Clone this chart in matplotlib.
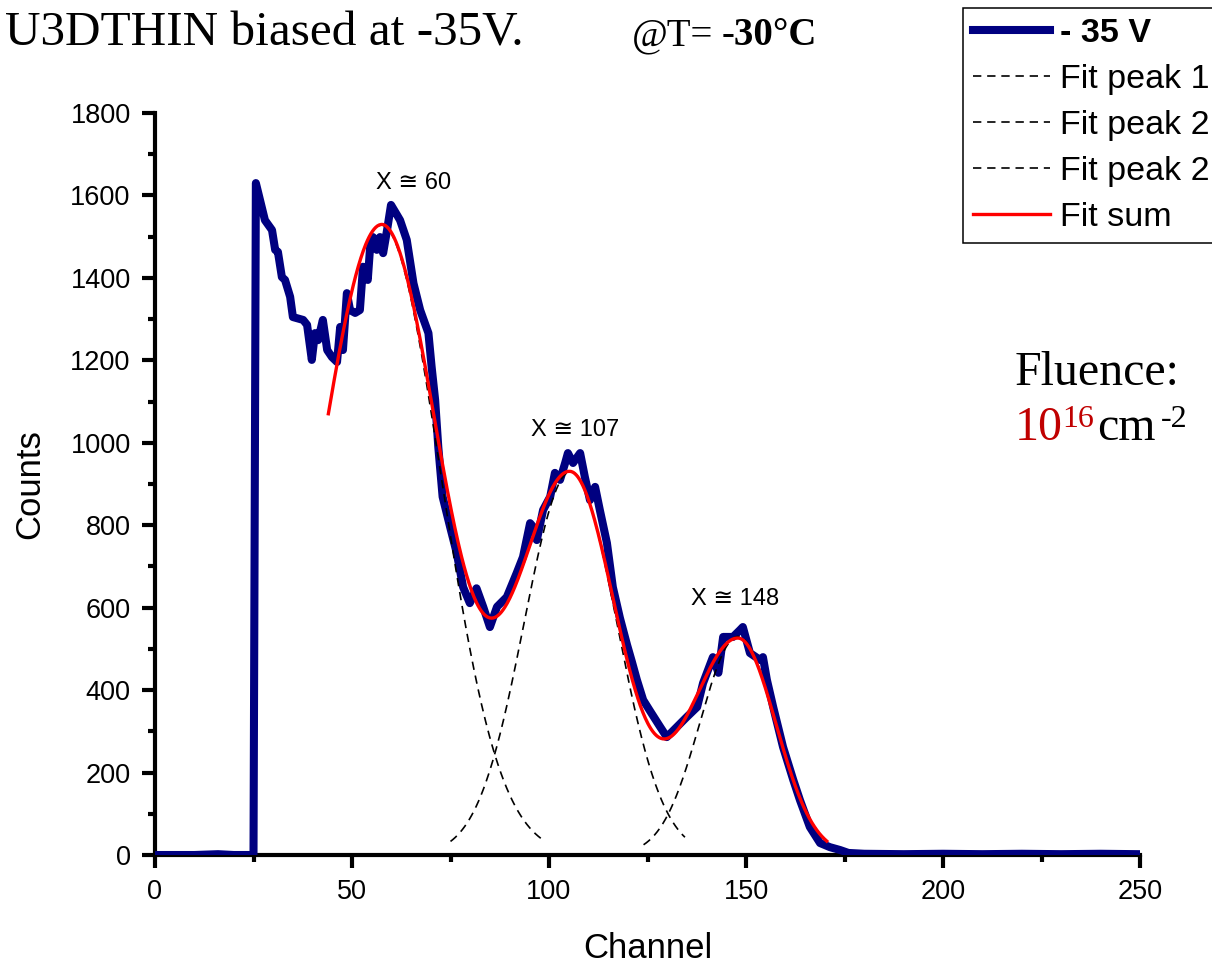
import numpy as np
import matplotlib
matplotlib.use('Agg')
import matplotlib.pyplot as plt
from matplotlib.lines import Line2D
from matplotlib.ticker import MultipleLocator

plt.rcParams['font.family'] = ['Liberation Sans', 'DejaVu Sans']

channel = [1, 10, 16, 20, 25, 25.6, 27.9, 29.7, 30.5, 31.2, 32.2, 33, 34.3, 35, 37.6,
           38.6, 39.8, 40.6, 41.4, 42.6, 43.7, 44.9, 46.2, 47, 47.7, 48.7, 49.5,
           50.8, 52, 52.8, 54, 54.6, 55.3, 56.3, 57.1, 57.9, 58.9, 59.9, 61.4,
           62.2, 63.9, 65.6, 67.3, 69.4, 70.2, 71.1, 71.9, 73, 74.9, 76.6, 78.2,
           79.9, 81.6, 83.3, 85, 86.8, 89.3, 91.8, 93.4, 95.2, 96, 96.9, 98.5,
           100.3, 101.5, 102.8, 104.1, 104.8, 106.1, 107.9, 109.1, 110.4, 111.7,
           112.9, 114.7, 116.2, 118, 119.8, 121, 122.3, 123.9, 125.6, 128.2,
           129.9, 132.5, 135, 137.6, 139.1, 141.6, 143, 144.2, 146.7, 148.5,
           149.2, 151, 153.6, 154.3, 155.3, 156.9, 159.4, 162, 163.7, 166.2,
           168.8, 171.3, 173.9, 176, 180, 190, 200, 210, 220, 230, 240, 249.5]
counts = [0, 0, 2, 0, 0, 1630, 1540, 1516, 1468, 1463, 1402, 1395, 1354, 1305, 1298,
          1286, 1201, 1266, 1249, 1298, 1225, 1208, 1196, 1281, 1225, 1363, 1322,
          1315, 1322, 1427, 1395, 1475, 1499, 1468, 1499, 1460, 1516, 1577, 1553,
          1540, 1492, 1387, 1322, 1266, 1185, 1104, 990, 869, 796, 732, 650,
          611, 647, 602, 553, 602, 626, 684, 723, 805, 796, 764, 837,
          869, 927, 910, 951, 975, 951, 975, 917, 861, 893,
          837, 757, 650, 575, 510, 470, 425, 376, 350, 311,
          286, 311, 335, 359, 417, 480, 442, 529, 529, 546,
          553, 490, 473, 480, 425, 359, 262, 182, 133, 68,
          29, 19, 12, 5, 3, 2, 3, 2, 3, 2, 3, 2]

# gaussian fit peaks: centre, height, left / right sigma, drawn range
peak_center = [57.5, 105.5, 148.0]
peak_height = [1528, 930, 530]
peak_sig_l = [16.0, 11.8, 9.7]
peak_sig_r = [15.0, 11.7, 9.6]
peak_from = [50, 75, 124]
peak_to = [98.5, 134.5, 170]

# fit sum components
sum_height = [1528, 920, 525]
sum_sig_l = [16.0, 13.5, 12.3]
sum_sig_r = [15.0, 11.7, 9.6]
sum_from, sum_to = 44, 170.5

peak_text = ['X \u2245 60', 'X \u2245 107', 'X \u2245 148']
text_x = [65.7, 106.6, 147.2]
text_y = [1630, 1031, 621]

legend_labels = ['- 35 V', 'Fit peak 1', 'Fit peak 2', 'Fit peak 2', 'Fit sum']


def split_gauss(x, c, h, sl, sr):
    s = np.where(x < c, sl, sr)
    return h * np.exp(-(x - c) ** 2 / (2 * s ** 2))


blue = '#000080'
dash = (0, (5, 3.5))

fig = plt.figure(figsize=(12.12, 9.63), dpi=100)
ax = fig.add_axes([155 / 1212, 1 - 855 / 963, 985 / 1212, 742 / 963])

ax.plot(channel, counts, color=blue, lw=5.8, solid_joinstyle='round', zorder=3)

for i in range(3):
    xx = np.linspace(peak_from[i], peak_to[i], 200)
    yy = split_gauss(xx, peak_center[i], peak_height[i], peak_sig_l[i], peak_sig_r[i])
    ax.plot(xx, yy, color='black', lw=1.2, linestyle=dash, zorder=4)

xs = np.linspace(sum_from, sum_to, 600)
ys = np.zeros_like(xs)
for i in range(3):
    ys += split_gauss(xs, peak_center[i], sum_height[i], sum_sig_l[i], sum_sig_r[i])
ax.plot(xs, ys, color='red', lw=2.4, zorder=5)

for t, x, y in zip(peak_text, text_x, text_y):
    ax.text(x, y, t, ha='center', va='center', fontsize=17)

ax.set_xlim(0, 250)
ax.set_ylim(0, 1800)
ax.xaxis.set_major_locator(MultipleLocator(50))
ax.xaxis.set_minor_locator(MultipleLocator(25))
ax.yaxis.set_major_locator(MultipleLocator(200))
ax.yaxis.set_minor_locator(MultipleLocator(100))
for side in ['top', 'right']:
    ax.spines[side].set_visible(False)
for side in ['left', 'bottom']:
    ax.spines[side].set_linewidth(3)
ax.tick_params(which='major', length=9.5, width=3, direction='out', labelsize=19.5, pad=8)
ax.tick_params(which='minor', length=5, width=3, direction='out')
ax.set_xlabel('Channel', fontsize=25, labelpad=19)
ax.set_ylabel('Counts', fontsize=25, labelpad=17)

handles = [Line2D([], [], color=blue, lw=5.8),
           Line2D([], [], color='black', lw=1.2, linestyle=dash),
           Line2D([], [], color='black', lw=1.2, linestyle=dash),
           Line2D([], [], color='black', lw=1.2, linestyle=dash),
           Line2D([], [], color='red', lw=2.4)]
leg = fig.legend(handles, legend_labels, loc='upper left',
                 bbox_to_anchor=(963 / 1212, 1 - 8 / 963), bbox_transform=fig.transFigure,
                 fontsize=24.5, frameon=True, fancybox=False, framealpha=1,
                 edgecolor='black', borderpad=0.3, labelspacing=0.44,
                 handlelength=2.25, handletextpad=0.3, borderaxespad=0)
leg.get_frame().set_linewidth(1.1)
leg.get_texts()[0].set_fontweight('bold')

serif = ['Liberation Serif', 'DejaVu Serif']
fig.text(524 / 1212, 1 - 45 / 963, 'U3DTHIN biased at -35V.', ha='right', va='baseline',
         fontsize=35.5, family=serif)
fig.text(632 / 1212, 1 - 45 / 963, '@T=', ha='left', va='baseline', fontsize=28, family=serif)
fig.text(817 / 1212, 1 - 45 / 963, '-30\u00b0C', ha='right', va='baseline', fontsize=28,
         family=serif, fontweight='bold')

fig.text(1015 / 1212, 1 - 385 / 963, 'Fluence:', ha='left', va='baseline', fontsize=34.5,
         family=serif)
fig.text(1015 / 1212, 1 - 440 / 963, '10', ha='left', va='baseline', fontsize=34.5,
         family=serif, color='#c00000')
fig.text(1062 / 1212, 1 - 427 / 963, '16', ha='left', va='baseline', fontsize=23,
         family=serif, color='#c00000')
fig.text(1097 / 1212, 1 - 440 / 963, 'cm', ha='left', va='baseline', fontsize=34.5,
         family=serif)
fig.text(1161 / 1212, 1 - 427 / 963, '-2', ha='left', va='baseline', fontsize=23,
         family=serif)

fig.savefig('out.png', dpi=100)
